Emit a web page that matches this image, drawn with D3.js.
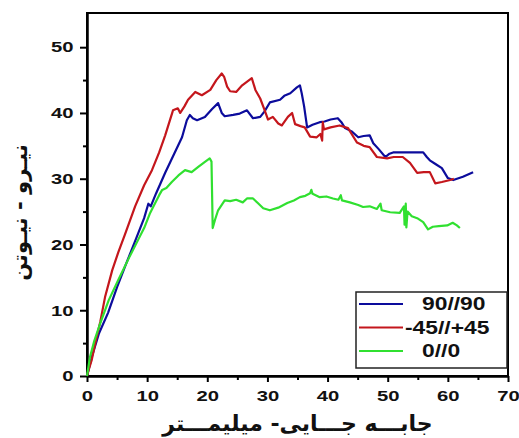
<!DOCTYPE html>
<html>
<head>
<meta charset="utf-8">
<script src="https://cdn.jsdelivr.net/npm/d3@7"></script>
<style>
   body { margin: 0; background: #fff; }
   svg text { font-family: "Liberation Sans", Arial, sans-serif; font-weight: bold; }
</style>
</head>
<body>
<svg id="chart" width="519" height="438"></svg>
<script>
// values: [displacement mm, force N]
const blueLine = [[0,0],[0.8,2.9],[2,6.5],[3.5,9.6],[5,13.5],[6.3,16.6],[8,20.5],[9.5,24],[10.2,26.2],[10.6,25.8],[11.5,27.8],[13,30.9],[14.5,33.8],[15.8,36.3],[16.6,38.9],[17.1,39.7],[17.6,39.2],[18.3,38.9],[19.6,39.4],[20.8,40.6],[21.8,41.5],[22.4,40],[22.9,39.5],[24.3,39.7],[25.4,39.9],[26.6,40.4],[27.6,39.2],[28.8,39.4],[29.5,40.2],[30.4,41.6],[32.1,42],[32.8,42.6],[33.8,43],[34.9,43.9],[35.4,44.2],[35.7,43],[36.1,41],[36.6,37.8],[37.5,38.2],[38.7,38.6],[39.5,38.7],[40.5,39],[41.7,39.2],[42.3,38.6],[42.9,37.7],[44,37.2],[45.1,36.3],[46,36.5],[47,36.6],[47.6,35.4],[48.5,34.5],[49.6,33.3],[50.3,33.8],[50.9,34],[53,34],[55.9,34],[56.5,33.3],[57,32.8],[58,32.2],[59,31.6],[60,30.1],[60.9,29.8],[62.5,30.3],[64.2,31]];

const redLine = [[0,0],[0.3,1],[0.8,2.5],[1.5,5.5],[2.2,8.2],[3,12],[4.2,16.1],[5.2,18.8],[6.3,21.5],[8,25.8],[9.5,29],[10.8,31.3],[12,34],[13,36.6],[14.3,40.4],[15.1,40.7],[15.5,40],[16.2,41],[16.8,42],[18,43.2],[19.1,42.7],[20.5,43.5],[21.5,45],[22.4,46],[22.8,45.5],[23.3,44],[23.8,43.3],[24.8,43.2],[25.8,44.2],[27.4,45.3],[28,43.5],[28.8,42.2],[29.5,40.5],[30.1,39],[30.9,39.4],[31.8,38.4],[32.4,38.1],[33.4,39.4],[34.1,40],[34.6,38.3],[35.5,38],[36.2,37.8],[37.1,36.4],[38.2,36.3],[38.8,36.8],[39.1,35.8],[39.2,38.6],[39.4,37.5],[40.5,37.8],[42,38.1],[43.4,37.7],[44,36.8],[44.9,35.5],[46,35],[47,34.8],[48.2,33.3],[49.9,33.1],[51,33.3],[52.5,33.3],[53.7,32.4],[54.9,30.9],[56,31],[57,31],[57.9,29.3],[59,29.5],[60.4,29.8],[61,30]];

const greenLine = [[0,0],[0.5,2.9],[1.2,5.3],[2.2,8],[3.6,11.5],[5.2,14.6],[7,18],[8.5,20.7],[9.5,22.5],[10.5,24.8],[11,25.7],[12,27.5],[12.5,28.3],[13.2,28.6],[14.1,29.5],[15.2,30.5],[16.3,31.3],[17.4,31],[18.5,31.8],[19.5,32.5],[20.4,33.1],[20.7,32.6],[20.9,22.5],[21.3,23.8],[21.8,25.2],[22.9,26.7],[23.8,26.6],[24.8,26.8],[25.9,26.4],[26.6,27],[27.6,27],[28.4,26.3],[29.3,25.5],[30.4,25.2],[31.8,25.6],[33.3,26.3],[34.4,26.7],[35.4,27.2],[36.3,27.4],[37.1,27.8],[37.3,28.3],[37.5,27.7],[38.7,27.2],[39.8,27.3],[40.9,27],[41.8,26.8],[42.2,27.5],[42.4,26.7],[43.7,26.4],[45.1,26],[45.9,25.7],[47,25.8],[48.2,25.4],[48.8,26.2],[49,25.2],[50.4,24.9],[52,24.8],[52.7,25.8],[52.8,23],[53,26.2],[53.1,22.6],[53.3,25],[54,24.3],[54.9,24],[55.9,23.4],[56.7,22.3],[57.5,22.7],[58.5,22.8],[59.9,22.9],[60.8,23.3],[61.5,22.9],[62,22.5]];

const seriesNames = ["90//90", "-45//+45", "0//0"];
const seriesColors = ["#0c0c9c", "#c4161c", "#30e030"];
const xTicks = [0, 10, 20, 30, 40, 50, 60, 70];
const yTicks = [0, 10, 20, 30, 40, 50];
const xTitle = "جابـــه جـــایی- میلیمـــتر";
const yTitle = "نیـرو - نیـوتن";

const series = [blueLine, redLine, greenLine].map((pts, i) => ({
   name: seriesNames[i],
   color: seriesColors[i],
   pts: pts,
}));

const margin = { top: 13, right: 11, bottom: 62, left: 87 };
const svg = d3.select("#chart");
const width = +svg.attr("width") - margin.left - margin.right;
const height = +svg.attr("height") - margin.top - margin.bottom;

const x = d3.scaleLinear().domain([0, 70]).range([0, width]);
const y = d3.scaleLinear().domain([0, 55.2]).range([height, 0]);

const g = svg.append("g")
   .attr("transform", `translate(${margin.left},${margin.top})`);

// frame (top + right)
g.append("rect")
   .attr("width", width)
   .attr("height", height)
   .attr("fill", "none")
   .attr("stroke", "#000")
   .attr("stroke-width", 2);

// minor ticks
g.append("g")
   .attr("transform", `translate(0,${height})`)
   .call(d3.axisBottom(x).tickValues(d3.range(5, 70, 10)).tickSize(4).tickFormat(""))
   .call(a => a.select(".domain").remove())
   .selectAll("line").attr("stroke-width", 2);
g.append("g")
   .call(d3.axisLeft(y).tickValues(d3.range(5, 55, 10)).tickSize(4).tickFormat(""))
   .call(a => a.select(".domain").remove())
   .selectAll("line").attr("stroke-width", 2);

const xAxis = g.append("g")
   .attr("transform", `translate(0,${height})`)
   .call(d3.axisBottom(x).tickValues(xTicks).tickSize(6).tickPadding(8).tickSizeOuter(0));
const yAxis = g.append("g")
   .call(d3.axisLeft(y).tickValues(yTicks).tickSize(7).tickPadding(3).tickSizeOuter(0));

[xAxis, yAxis].forEach(a => {
   a.select(".domain").attr("stroke-width", 2.5);
   a.selectAll(".tick line").attr("stroke-width", 2);
   a.selectAll(".tick text")
      .attr("font-size", 15)
      .attr("fill", "#111")
      .attr("transform", "scale(1.35,1)");
});

const line = d3.line()
   .x(d => x(d[0]))
   .y(d => y(d[1]));

g.append("g")
   .selectAll("path")
   .data(series)
   .join("path")
   .attr("fill", "none")
   .attr("stroke", d => d.color)
   .attr("stroke-width", 2.2)
   .attr("stroke-linejoin", "round")
   .attr("d", d => line(d.pts));

// legend
const legend = g.append("g")
   .attr("transform", `translate(${width - 152},${height - 84})`);

legend.append("rect")
   .attr("width", 151)
   .attr("height", 76)
   .attr("fill", "#fff")
   .attr("stroke", "#222")
   .attr("stroke-width", 1.5);

const item = legend.selectAll("g.item")
   .data(series)
   .join("g")
   .attr("class", "item")
   .attr("transform", (d, i) => `translate(0,${12 + i * 23.5})`);

item.append("line")
   .attr("x1", 3)
   .attr("x2", 47)
   .attr("stroke", d => d.color)
   .attr("stroke-width", 2);

item.append("text")
   .attr("x", d => (d.name.startsWith("-") ? 49 : 66) / 1.27)
   .attr("dy", "0.36em")
   .attr("font-size", 18)
   .attr("fill", "#111")
   .attr("transform", "scale(1.27,1)")
   .text(d => d.name);

// axis titles
svg.append("text")
   .attr("x", margin.left + width / 2)
   .attr("y", 431)
   .attr("text-anchor", "middle")
   .attr("direction", "rtl")
   .attr("font-size", 22)
   .style("font-family", "'DejaVu Sans', sans-serif")
   .attr("fill", "#111")
   .text(xTitle);

svg.append("text")
   .attr("transform", `translate(27,${margin.top + height / 2 + 18}) rotate(-90)`)
   .attr("text-anchor", "middle")
   .attr("direction", "rtl")
   .attr("font-size", 21)
   .style("font-family", "'DejaVu Sans', sans-serif")
   .attr("fill", "#111")
   .text(yTitle);
</script>
</body>
</html>
